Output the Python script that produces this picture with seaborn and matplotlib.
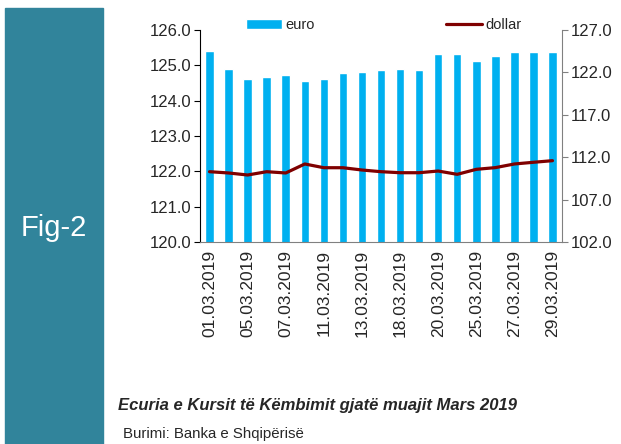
import matplotlib
matplotlib.use("Agg")
import matplotlib.pyplot as plt
import matplotlib.patches as mpatches
import numpy as np
import pandas as pd
import seaborn as sns

# trading days of March 2019 (14.03 and 22.03 are holidays)
dates = ["01.03.2019", "04.03.2019", "05.03.2019", "06.03.2019", "07.03.2019",
         "08.03.2019", "11.03.2019", "12.03.2019", "13.03.2019", "15.03.2019",
         "18.03.2019", "19.03.2019", "20.03.2019", "21.03.2019", "25.03.2019",
         "26.03.2019", "27.03.2019", "28.03.2019", "29.03.2019"]
euro = [125.41, 124.91, 124.62, 124.67, 124.72, 124.57, 124.62, 124.77, 124.82, 124.87,
        124.91, 124.87, 125.32, 125.32, 125.11, 125.26, 125.37, 125.37, 125.37]
dollar = [110.29, 110.14, 109.90, 110.29, 110.14, 111.20, 110.76, 110.76, 110.49, 110.29,
          110.17, 110.17, 110.37, 109.98, 110.57, 110.77, 111.20, 111.40, 111.59]

df = pd.DataFrame({"date": dates, "euro": euro, "dollar": dollar})

sns.set_style("white")
plt.rcParams["font.family"] = ["Liberation Sans", "DejaVu Sans"]

fig = plt.figure(figsize=(6.21, 4.44), dpi=100)

# teal side band
fig.patches.append(mpatches.Rectangle((5 / 621, 0), 98 / 621, 1 - 8 / 444,
                                      transform=fig.transFigure, color="#31849B", zorder=0))
fig.text(54 / 621, 1 - 228 / 444, "Fig-2", color="white", fontsize=21,
         ha="center", va="center")

ax = fig.add_axes([200 / 621, 1 - 242 / 444, 362 / 621, 212 / 444])
sns.barplot(data=df, x="date", y="euro", color="#00B0F0", saturation=1,
            width=0.45, ax=ax, label="euro")
ax.set_ylim(120, 126)
ax.set_yticks(np.arange(120, 126.5, 1))
ax.set_yticklabels([f"{v:.1f}" for v in np.arange(120, 126.5, 1)])
ax.set_xlim(-0.5, len(dates) - 0.5)
ax.set_xlabel("")
ax.set_ylabel("")

ax2 = ax.twinx()
sns.lineplot(x=np.arange(len(dates)), y=df["dollar"], color="#7F0000",
             linewidth=2.3, ax=ax2, label="dollar", legend=False)
ax2.set_ylim(102, 127)
ax2.set_yticks(np.arange(102, 128, 5))
ax2.set_yticklabels([f"{v:.1f}" for v in np.arange(102, 128, 5)])
ax2.set_ylabel("")

# x tick labels every other day, ticks between categories
ax.set_xticks(np.arange(0, len(dates), 2))
ax.set_xticklabels(dates[::2], rotation=90, fontsize=12.5)
ax.set_xticks(np.arange(-0.5, len(dates), 1), minor=True)
ax.tick_params(axis="x", which="major", length=0, pad=6)
ax.tick_params(axis="x", which="minor", length=4, color="#808080", direction="out")
ax.tick_params(axis="y", length=4, direction="out", color="black", labelsize=12, pad=2)
ax2.tick_params(axis="y", length=4, direction="out", color="#808080", labelsize=12, pad=2)

for a in (ax, ax2):
    a.spines["top"].set_visible(False)
ax.spines["left"].set_color("black")
ax.spines["bottom"].set_color("#808080")
ax.spines["right"].set_visible(False)
ax2.spines["left"].set_visible(False)
ax2.spines["bottom"].set_visible(False)
ax2.spines["right"].set_color("#808080")

h1, l1 = ax.get_legend_handles_labels()
h2, l2 = ax2.get_legend_handles_labels()
if ax.get_legend():
    ax.get_legend().remove()
fig.legend(h1 + h2, l1 + l2, loc="center left", bbox_to_anchor=(246 / 621, 1 - 25 / 444),
           ncol=2, frameon=False, fontsize=10.5, handlelength=2.5, handletextpad=0.2,
           columnspacing=9.0, borderaxespad=0, borderpad=0)

fig.text(118 / 621, 1 - 405 / 444, "Ecuria e Kursit të Këmbimit gjatë muajit Mars 2019",
         fontsize=12, fontweight="bold", fontstyle="italic", ha="left", va="center")
fig.text(123 / 621, 1 - 434 / 444, "Burimi: Banka e Shqipërisë",
         fontsize=10.8, ha="left", va="center")

fig.savefig("out.png", dpi=100)
